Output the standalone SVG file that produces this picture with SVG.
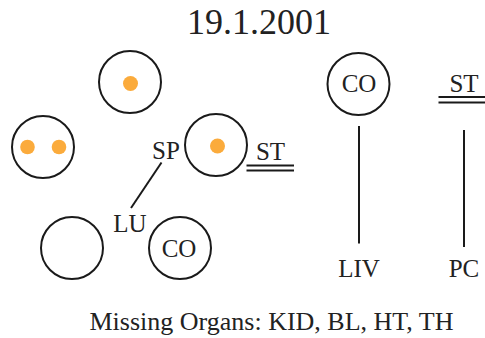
<svg xmlns="http://www.w3.org/2000/svg" width="485" height="338" viewBox="0 0 485 338">
<style>
text{font-family:"Liberation Serif","Times New Roman",serif;fill:#222;font-size:25px}
.t{text-anchor:middle}
.c{fill:none;stroke:#1a1a1a;stroke-width:2}
.d{fill:#fbab3c}
.l{stroke:#1a1a1a;stroke-width:2;fill:none}
</style>
<rect width="485" height="338" fill="#fff"/>
<text x="259" y="34" class="t" style="font-size:36px">19.1.2001</text>
<g id="n1"><circle class="c" cx="130" cy="82" r="31"/><circle class="d" cx="130.5" cy="83.5" r="7.5"/></g>
<g id="n2"><circle class="c" cx="43" cy="147" r="31"/><circle class="d" cx="27.5" cy="147" r="7.3"/><circle class="d" cx="59" cy="147" r="7.3"/></g>
<g id="n3"><circle class="c" cx="216" cy="145" r="31"/><circle class="d" cx="217.5" cy="146" r="7.5"/></g>
<g id="sp"><text x="166" y="159" class="t">SP</text></g>
<g id="st1"><text x="270.5" y="160" class="t">ST</text><path class="l" d="M246.5 165.5H294M246.5 170.5H294" stroke-width="1.8"/></g>
<g id="lu"><text x="130" y="232" class="t">LU</text></g>
<g id="n4"><circle class="c" cx="72" cy="248" r="31"/></g>
<g id="n5"><circle class="c" cx="180" cy="248" r="31"/><text x="179" y="257" class="t">CO</text></g>
<g id="n6"><circle class="c" cx="358.5" cy="84" r="31"/><text x="359" y="92" class="t">CO</text></g>
<g id="st2"><text x="464" y="92" class="t">ST</text><path class="l" d="M438.5 97H485M438.5 102.5H485" stroke-width="1.8"/></g>
<g id="liv"><text x="359" y="277" class="t">LIV</text></g>
<g id="pc"><text x="464" y="277" class="t">PC</text></g>
<g id="connectors">
<line class="l" x1="161.5" y1="162.5" x2="131" y2="208"/>
<line class="l" x1="359" y1="126" x2="359" y2="243.5"/>
<line class="l" x1="464" y1="130" x2="464" y2="247"/>
</g>
<text x="271.5" y="330" class="t" style="font-size:26px">Missing Organs: KID, BL, HT, TH</text>
</svg>
